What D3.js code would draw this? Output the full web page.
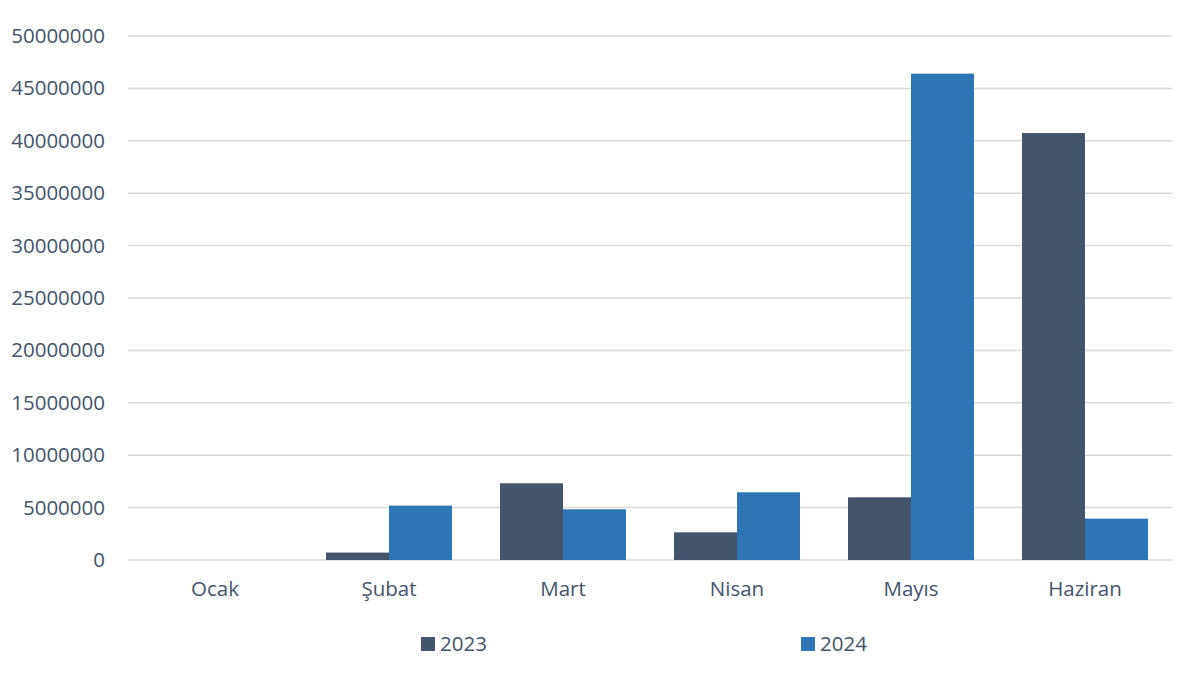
<!DOCTYPE html>
<html>
<head>
<meta charset="utf-8">
<script src="https://cdn.jsdelivr.net/npm/d3@7"></script>
<style>
  body { margin: 0; background: #fff; }
  svg { font-family: "Open Sans", "Noto Sans", sans-serif; }
</style>
</head>
<body>
<svg id="chart"></svg>
<script>
// months and the two yearly series
var months = ["Ocak", "Şubat", "Mart", "Nisan", "Mayıs", "Haziran"]
var series = ["2023", "2024"]
var values2023 = [0, 710000, 7320000, 2640000, 5980000, 40740000]
var values2024 = [0, 5190000, 4840000, 6460000, 46410000, 3950000]
var yTicks = [0, 5000000, 10000000, 15000000, 20000000, 25000000, 30000000, 35000000, 40000000, 45000000, 50000000]

var colors = { "2023": "#44546a", "2024": "#2e75b6" }
var textColor = "#44546a"
var fontSize = "20.5px"

var dimensions = {
    width: 1201,
    height: 677,
    margin: { top: 36, bottom: 117, left: 128, right: 29 }
}

var svg = d3.select("#chart")
            .attr("width", dimensions.width)
            .attr("height", dimensions.height)

var data = months.map(function(m, i){
    return { month: m, "2023": values2023[i], "2024": values2024[i] }
})

var xScale = d3.scaleBand()
                .domain(months)
                .range([dimensions.margin.left, dimensions.width - dimensions.margin.right])
                .paddingInner(0.276)
                .paddingOuter(0.138)

var xSub = d3.scaleBand()
                .domain(series)
                .range([0, xScale.bandwidth()])

var yScale = d3.scaleLinear()
                .domain([0, 50000000])
                .range([dimensions.height - dimensions.margin.bottom, dimensions.margin.top])

// gridlines
svg.append("g")
    .selectAll("line")
    .data(yTicks)
    .enter()
    .append("line")
    .attr("x1", dimensions.margin.left)
    .attr("x2", dimensions.width - dimensions.margin.right)
    .attr("y1", d => yScale(d))
    .attr("y2", d => yScale(d))
    .attr("stroke", "#d9d9d9")
    .attr("stroke-width", 1.5)

// y axis labels
var yAxisgen = d3.axisLeft(yScale).tickValues(yTicks).tickSize(0).tickPadding(23).tickFormat(d3.format("d"))
var yAxis = svg.append("g")
                .attr("transform", `translate(${dimensions.margin.left},0)`)
                .call(yAxisgen)
yAxis.select(".domain").remove()
yAxis.selectAll("text")
    .attr("fill", textColor)
    .style("font-size", fontSize)
    .style("font-family", "'Open Sans', sans-serif")

// bars
var groups = svg.append("g")
    .selectAll("g")
    .data(data)
    .enter()
    .append("g")
    .attr("transform", d => `translate(${xScale(d.month)},0)`)

groups.selectAll("rect")
    .data(d => series.map(s => ({ key: s, value: d[s] })))
    .enter()
    .append("rect")
    .attr("x", d => xSub(d.key))
    .attr("width", xSub.bandwidth())
    .attr("y", d => yScale(d.value))
    .attr("height", d => yScale(0) - yScale(d.value))
    .attr("fill", d => colors[d.key])

// x axis labels
var xAxisgen = d3.axisBottom(xScale).tickSize(0).tickPadding(21)
var xAxis = svg.append("g")
                .attr("transform", `translate(0,${yScale(0)})`)
                .call(xAxisgen)
xAxis.select(".domain").remove()
xAxis.selectAll("text")
    .attr("fill", textColor)
    .style("font-size", fontSize)
    .style("font-family", "'Open Sans', sans-serif")

// legend
var legendX = { "2023": 421, "2024": 801 }
var legend = svg.append("g")
    .selectAll("g")
    .data(series)
    .enter()
    .append("g")
    .attr("transform", d => `translate(${legendX[d]},637)`)

legend.append("rect")
    .attr("width", 14)
    .attr("height", 14)
    .attr("fill", d => colors[d])

legend.append("text")
    .attr("x", 19)
    .attr("y", 14)
    .attr("fill", textColor)
    .style("font-size", fontSize)
    .text(d => d)
</script>
</body>
</html>
